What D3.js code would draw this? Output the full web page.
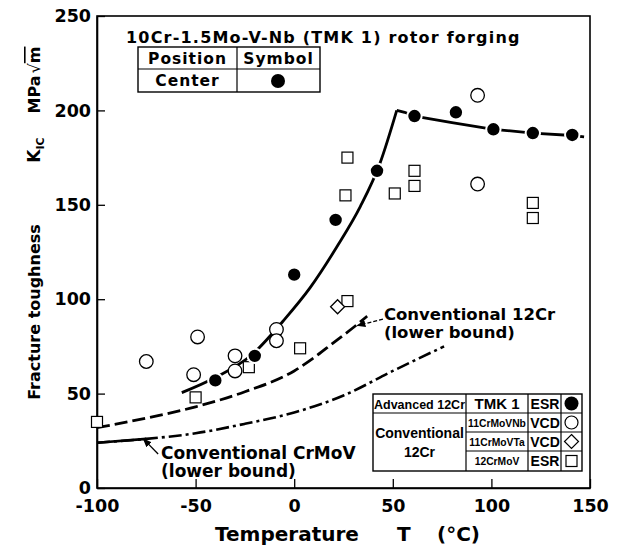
<!DOCTYPE html>
<html>
<head>
<meta charset="utf-8">
<script src="https://cdn.jsdelivr.net/npm/d3@7"></script>
<style>
body{margin:0;background:#fff}
svg text{font-weight:bold;fill:#000}
</style>
</head>
<body>
<div class="chart"></div>
<script>
// tick values
const xTicks=[-100,-50,0,50,100,150]
const yTicks=[0,50,100,150,200,250]

// measured points [T (°C), KIC (MPa√m)]
const tmk1=[[-40,57],[-20,70],[0,113],[21,142],[42,168],[61,197],[82,199],[101,190],[121,188],[141,187]]
const crMoVNb=[[-75,67],[-49,80],[-51,60],[-30,70],[-30,62],[-9,84],[-9,78],[93,208],[93,161]]
const crMoVTa=[[22,96]]
const crMoV=[[-100,35],[-50,48],[-23,64],[3,74],[27,99],[27,175],[26,155],[51,156],[61,168],[61,160],[121,151],[121,143]]

// fitted / bound curves
const tmkRise=[[-57,50.5],[-40,58.5],[-21,71],[-5.5,88.6],[8,106],[21.5,127.5],[33.5,149],[43.5,172],[52,200]]
const tmkFlat=[[52,200],[56,199],[61,197],[80,193.5],[101,190],[121,188],[141,186.7],[147,186]]
const lower12Cr=[[-100,32],[-75,37],[-50,43],[-25,51],[0,62],[10,69],[20,77],[30,85],[37,91]]
const lowerCrMoV=[[-100,24],[-75,26],[-50,29],[-25,34],[0,40],[25,49],[50,62],[76,75]]

const DV='"DejaVu Sans",sans-serif'
const LB='"Liberation Sans",Arial,sans-serif'

const W=620,H=552
const svg=d3.select('.chart').append('svg')
	.attr('width',W)
	.attr('height',H)
	.style('font-family',DV)

const x=d3.scaleLinear().domain([-100,150]).range([97,590])
const y=d3.scaleLinear().domain([0,250]).range([488,16])

svg.append('defs').append('marker')
	.attr('id','arrow')
	.attr('viewBox','0 0 10 10')
	.attr('refX',9).attr('refY',5)
	.attr('markerWidth',9).attr('markerHeight',9)
	.attr('markerUnits','userSpaceOnUse')
	.attr('orient','auto')
	.append('path')
	.attr('d','M0,1 L10,5 L0,9 Z')
	.attr('fill','#000')

// frame
svg.append('rect')
	.attr('x',x(-100)).attr('y',y(250))
	.attr('width',x(150)-x(-100)).attr('height',y(0)-y(250))
	.attr('fill','none').attr('stroke','#000').attr('stroke-width',1.6)

const xAxis=d3.axisBottom(x).tickValues(xTicks).tickSizeInner(-9).tickSizeOuter(0).tickPadding(12).tickFormat(d=>String(d))
const yAxis=d3.axisLeft(y).tickValues(yTicks).tickSizeInner(-8).tickSizeOuter(0).tickPadding(6).tickFormat(d=>String(d))

svg.append('g').attr('class','x-axis')
	.attr('transform',`translate(0,${y(0)})`)
	.call(xAxis)
svg.append('g').attr('class','y-axis')
	.attr('transform',`translate(${x(-100)},0)`)
	.call(yAxis)

svg.selectAll('.x-axis,.y-axis')
	.attr('font-family',DV)
	.attr('font-size',17.5)
	.attr('font-weight','bold')
svg.selectAll('.domain').attr('stroke-width',1.6)
svg.selectAll('.tick line').attr('stroke-width',1.3)

// axis titles
svg.append('text').attr('x',215).attr('y',541).attr('font-size',20).text('Temperature')
svg.append('text').attr('x',397).attr('y',541).attr('font-size',20).text('T')
svg.append('text').attr('x',437).attr('y',541).attr('font-size',20).text('(°C)')

const yl=svg.append('g').attr('transform','translate(40,0)')
yl.append('text').attr('transform','translate(0,312) rotate(-90)')
	.attr('text-anchor','middle').attr('font-size',16).text('Fracture toughness')
const kic=yl.append('text').attr('transform','translate(0,150) rotate(-90)')
	.attr('text-anchor','middle').attr('font-size',17)
kic.append('tspan').text('K')
kic.append('tspan').attr('font-size',11).attr('dy',4).text('IC')
const mpa=yl.append('text').attr('transform','translate(0,80) rotate(-90)')
	.attr('text-anchor','middle').attr('font-size',16)
mpa.append('tspan').text('MPa')
mpa.append('tspan').attr('font-weight','normal').attr('dx',2).text('√')
mpa.append('tspan').attr('text-decoration','overline').text('m')

// curves
const line=d3.line().x(d=>x(d[0])).y(d=>y(d[1])).curve(d3.curveMonotoneX)

svg.append('path').datum(lowerCrMoV)
	.attr('d',line).attr('fill','none').attr('stroke','#000').attr('stroke-width',2.6)
	.attr('stroke-dasharray','13,4,3,4')
svg.append('path').datum(lowerCrMoV.filter(d=>d[0]<=-75))
	.attr('d',line).attr('fill','none').attr('stroke','#000').attr('stroke-width',2.6)
svg.append('path').datum(lower12Cr)
	.attr('d',line).attr('fill','none').attr('stroke','#000').attr('stroke-width',2.8)
	.attr('stroke-dasharray','13,5')
svg.append('path').datum(tmkRise)
	.attr('d',line).attr('fill','none').attr('stroke','#000').attr('stroke-width',2.8)
svg.append('path').datum(tmkFlat)
	.attr('d',d3.line().x(d=>x(d[0])).y(d=>y(d[1])))
	.attr('fill','none').attr('stroke','#000').attr('stroke-width',2.8)

// markers
const sq=11
svg.selectAll('.sq').data(crMoV).enter().append('rect')
	.attr('class','sq')
	.attr('x',d=>x(d[0])-sq/2).attr('y',d=>y(d[1])-sq/2)
	.attr('width',sq).attr('height',sq)
	.attr('fill','#fff').attr('stroke','#000').attr('stroke-width',1.2)
svg.selectAll('.oc').data(crMoVNb).enter().append('circle')
	.attr('class','oc')
	.attr('cx',d=>x(d[0])).attr('cy',d=>y(d[1])).attr('r',6.8)
	.attr('fill','#fff').attr('stroke','#000').attr('stroke-width',1.3)
svg.selectAll('.dm').data(crMoVTa).enter().append('path')
	.attr('class','dm')
	.attr('transform',d=>`translate(${x(d[0])},${y(d[1])})`)
	.attr('d','M0,-7L7,0L0,7L-7,0Z')
	.attr('fill','#fff').attr('stroke','#000').attr('stroke-width',1.3)
svg.selectAll('.fc').data(tmk1).enter().append('circle')
	.attr('class','fc')
	.attr('cx',d=>x(d[0])).attr('cy',d=>y(d[1])).attr('r',7.2)
	.attr('fill','#000').attr('stroke','#fff').attr('stroke-width',2)

// annotations
svg.append('line')
	.attr('x1',x(45)).attr('y1',y(89.5)).attr('x2',x(32)).attr('y2',y(86))
	.attr('stroke','#000').attr('stroke-width',1.3).attr('stroke-dasharray','4,2')
	.attr('marker-end','url(#arrow)')
svg.append('text').attr('x',x(45.5)).attr('y',y(88.8)).attr('font-size',16.5).text('Conventional 12Cr')
svg.append('text').attr('x',x(45.5)).attr('y',y(79.3)).attr('font-size',16.5).text('(lower bound)')

svg.append('line')
	.attr('x1',x(-69)).attr('y1',y(18)).attr('x2',x(-76.5)).attr('y2',y(26))
	.attr('stroke','#000').attr('stroke-width',1.3)
	.attr('marker-end','url(#arrow)')
svg.append('text').attr('x',x(-67.5)).attr('y',y(15.6)).attr('font-size',17).text('Conventional CrMoV')
svg.append('text').attr('x',x(-67.5)).attr('y',y(6)).attr('font-size',17).text('(lower bound)')

// title and position table
svg.append('text').attr('x',126).attr('y',43).attr('font-size',16).attr('letter-spacing',1.2)
	.text('10Cr-1.5Mo-V-Nb (TMK 1) rotor forging')

const pt=svg.append('g')
pt.append('rect').attr('x',138).attr('y',47).attr('width',182).attr('height',45)
	.attr('fill','#fff').attr('stroke','#000').attr('stroke-width',1.4)
pt.append('line').attr('x1',138).attr('x2',320).attr('y1',69).attr('y2',69).attr('stroke','#000').attr('stroke-width',1.2)
pt.append('line').attr('x1',237).attr('x2',237).attr('y1',47).attr('y2',92).attr('stroke','#000').attr('stroke-width',1.2)
pt.append('text').attr('x',187.5).attr('y',64).attr('text-anchor','middle').attr('font-size',15.5).attr('letter-spacing',1).text('Position')
pt.append('text').attr('x',278.5).attr('y',64).attr('text-anchor','middle').attr('font-size',15.5).attr('letter-spacing',1).text('Symbol')
pt.append('text').attr('x',187.5).attr('y',86).attr('text-anchor','middle').attr('font-size',15.5).attr('letter-spacing',1).text('Center')
pt.append('circle').attr('cx',278).attr('cy',81).attr('r',7).attr('fill','#000')

// legend table
const steels=['TMK 1','11CrMoVNb','11CrMoVTa','12CrMoV']
const process=['ESR','VCD','VCD','ESR']
const symbols=['filled','circle','diamond','square']

const lg=svg.append('g').attr('class','legend')
const L=373,R=582,c1=466,c2=528,c3=561
const rows=[394,413,432,451,471]
lg.append('rect').attr('x',L).attr('y',rows[0]).attr('width',R-L).attr('height',rows[4]-rows[0])
	.attr('fill','#fff').attr('stroke','#000').attr('stroke-width',1.4)
lg.append('line').attr('x1',L).attr('x2',R).attr('y1',rows[1]).attr('y2',rows[1]).attr('stroke','#000').attr('stroke-width',1.2)
;[rows[2],rows[3]].forEach(r=>{
	lg.append('line').attr('x1',c1).attr('x2',R).attr('y1',r).attr('y2',r).attr('stroke','#000').attr('stroke-width',1.2)
})
;[c1,c2,c3].forEach(c=>{
	lg.append('line').attr('x1',c).attr('x2',c).attr('y1',rows[0]).attr('y2',rows[4]).attr('stroke','#000').attr('stroke-width',1.2)
})
lg.append('text').attr('x',(L+c1)/2).attr('y',408.5).attr('text-anchor','middle')
	.style('font-family',LB).attr('font-size',12.5).text('Advanced 12Cr')
lg.append('text').attr('x',(L+c1)/2).attr('y',438).attr('text-anchor','middle')
	.style('font-family',LB).attr('font-size',14).text('Conventional')
lg.append('text').attr('x',(L+c1)/2).attr('y',457).attr('text-anchor','middle')
	.style('font-family',LB).attr('font-size',14).text('12Cr')

steels.forEach((s,i)=>{
	const cy=(rows[i]+rows[i+1])/2
	lg.append('text').attr('x',(c1+c2)/2).attr('y',cy+(i==0?5.5:4))
		.attr('text-anchor','middle')
		.style('font-family',LB)
		.attr('font-size',i==0?15:10.3)
		.text(s)
	lg.append('text').attr('x',(c2+c3)/2+0.5).attr('y',cy+5)
		.attr('text-anchor','middle')
		.style('font-family',LB)
		.attr('font-size',14).text(process[i])
	const sx=(c3+R)/2
	const sym=symbols[i]
	if(sym=='filled'){
		lg.append('circle').attr('cx',sx).attr('cy',cy).attr('r',7).attr('fill','#000')
	}else if(sym=='circle'){
		lg.append('circle').attr('cx',sx).attr('cy',cy).attr('r',6.5).attr('fill','#fff').attr('stroke','#000').attr('stroke-width',1.2)
	}else if(sym=='diamond'){
		lg.append('path').attr('transform',`translate(${sx},${cy})`).attr('d','M0,-7L7,0L0,7L-7,0Z')
			.attr('fill','#fff').attr('stroke','#000').attr('stroke-width',1.2)
	}else{
		lg.append('rect').attr('x',sx-5.5).attr('y',cy-5.5).attr('width',11).attr('height',11)
			.attr('fill','#fff').attr('stroke','#000').attr('stroke-width',1.2)
	}
})
</script>
</body>
</html>
